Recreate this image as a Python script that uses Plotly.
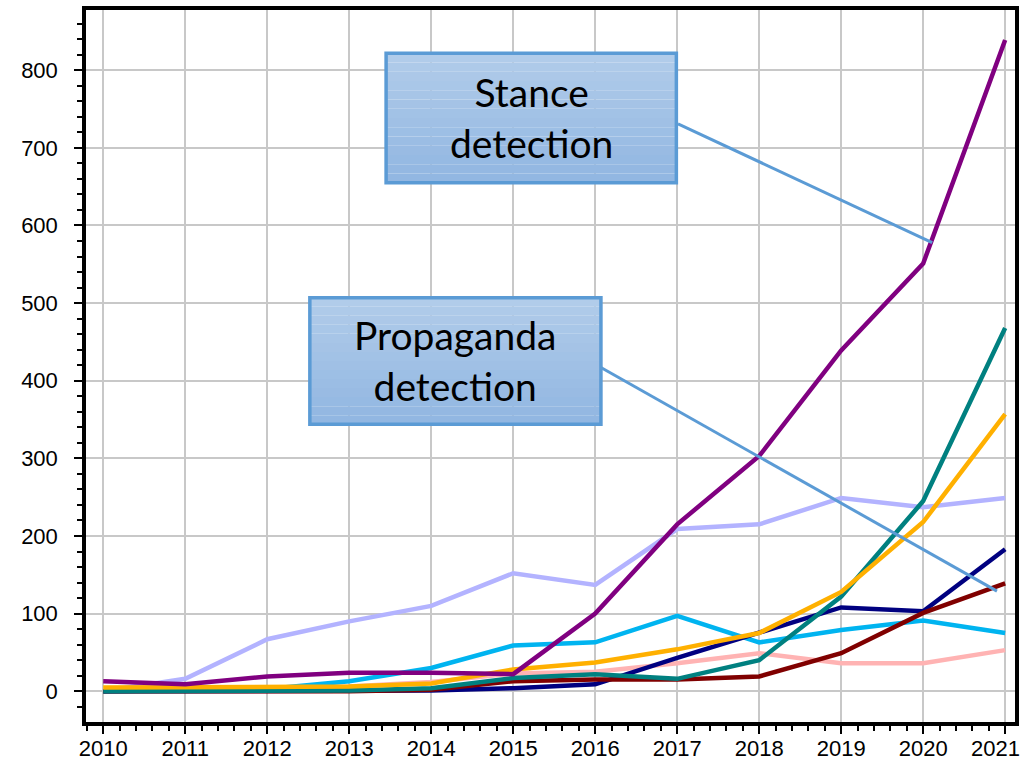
import plotly.graph_objects as go

years = [2010, 2011, 2012, 2013, 2014, 2015, 2016, 2017, 2018, 2019, 2020, 2021]
year_labels = [str(y) for y in years]

stance = [13, 9, 19, 24, 24, 22, 100, 215, 303, 439, 551, 839]
lavender = [0, 16, 67, 90, 110, 152, 137, 209, 215, 249, 237, 249]
skyblue = [0, 2, 3, 13, 30, 59, 63, 97, 63, 79, 91, 75]
pink = [2, 3, 4, 6, 12, 23, 25, 36, 49, 36, 36, 53]
orange = [5, 5, 5, 6, 10, 28, 37, 54, 75, 128, 218, 357]
teal = [0, 0, 0, 1, 4, 17, 22, 16, 40, 122, 245, 468]
darkred = [0, 0, 0, 0, 2, 13, 15, 15, 19, 49, 101, 139]
navy = [0, 0, 0, 0, 1, 4, 9, 43, 76, 108, 103, 183]

series = [
    ("lavender", lavender, "#b3b3ff"),
    ("pink", pink, "#ffb3b3"),
    ("skyblue", skyblue, "#00b4f0"),
    ("navy", navy, "#000080"),
    ("darkred", darkred, "#800000"),
    ("teal", teal, "#008080"),
    ("orange", orange, "#ffb000"),
    ("Stance detection", stance, "#800080"),
]

fig = go.Figure()
for name, vals, col in series:
    fig.add_trace(go.Scatter(x=years, y=vals, mode="lines", name=name,
                             line=dict(color=col, width=4.5)))

# annotation boxes with simulated gradient
def add_box(x0, x1, y0, y1, text):
    n = 14
    top = (177, 204, 234)
    bot = (146, 183, 226)
    for i in range(n):
        t = i / (n - 1)
        c = tuple(int(top[k] + (bot[k] - top[k]) * t) for k in range(3))
        ya = y1 - (y1 - y0) * i / n
        yb = y1 - (y1 - y0) * (i + 1) / n
        fig.add_shape(type="rect", x0=x0, x1=x1, y0=yb, y1=ya, xref="x", yref="y",
                      fillcolor="rgb(%d,%d,%d)" % c, line=dict(width=0), layer="above")
    fig.add_shape(type="rect", x0=x0, x1=x1, y0=y0, y1=y1, xref="x", yref="y",
                  fillcolor="rgba(0,0,0,0)", line=dict(color="#5b9bd5", width=3.5), layer="above")
    fig.add_annotation(x=(x0 + x1) / 2, y=(y0 + y1) / 2, xref="x", yref="y", text=text,
                       showarrow=False, font=dict(family="Lato", size=39, color="black"))

add_box(2013.45, 2016.99, 655, 822, "Stance<br>detection")
add_box(2012.52, 2016.07, 344, 507, "Propaganda<br>detection")

fig.add_shape(type="line", x0=2017.01, y0=731, x1=2020.11, y1=578, xref="x", yref="y",
              line=dict(color="#5b9bd5", width=3), layer="above")
fig.add_shape(type="line", x0=2016.07, y0=417, x1=2020.9, y1=129, xref="x", yref="y",
              line=dict(color="#5b9bd5", width=3), layer="above")

tickfont = dict(family="Liberation Sans", size=22, color="black")

# last year label drawn as annotation, nudged left to stay inside the page
fig.add_annotation(x=years[-1], y=0, xref="x", yref="paper", text=year_labels[-1],
                   showarrow=False, xanchor="center", yanchor="middle",
                   xshift=-10, yshift=-26, font=tickfont)

fig.update_layout(
    width=1025, height=763,
    margin=dict(l=86, r=10, t=10, b=41),
    paper_bgcolor="white", plot_bgcolor="white",
    showlegend=False,
    font=dict(family="Liberation Sans", size=22, color="black"),
)
fig.update_xaxes(
    range=[2009.79, 2021.12], tickmode="array", tickvals=years,
    ticktext=year_labels[:-1] + [""], tickfont=tickfont, automargin=False,
    ticklabeloverflow="allow", ticklabelstandoff=-4,
    showgrid=True, gridcolor="#c8c8c8", gridwidth=2,
    showline=True, linecolor="black", linewidth=3.5, mirror=True,
    ticks="outside", ticklen=8, tickwidth=2, tickcolor="black",
    minor=dict(dtick=0.2, ticks="outside", ticklen=5, tickwidth=2, tickcolor="black", showgrid=False),
    zeroline=False,
)
fig.update_yaxes(
    range=[-39.6, 877.6], tickmode="linear", dtick=100, tick0=0,
    tickfont=tickfont, automargin=False, ticklabeloverflow="allow",
    ticklabelstandoff=12,
    showgrid=True, gridcolor="#c8c8c8", gridwidth=2,
    showline=True, linecolor="black", linewidth=3.5, mirror=True,
    ticks="outside", ticklen=8, tickwidth=2, tickcolor="black",
    minor=dict(dtick=20, ticks="outside", ticklen=5, tickwidth=2, tickcolor="black", showgrid=False),
    zeroline=False,
)

fig.write_html("out.html", config={"displayModeBar": False},
               post_script="document.body.style.margin='0';document.body.style.overflow='hidden';")
